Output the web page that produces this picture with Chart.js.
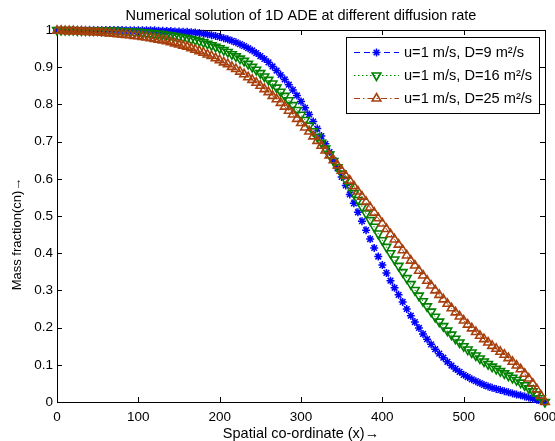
<!DOCTYPE html>
<html><head><meta charset="utf-8">
<script src="https://cdn.jsdelivr.net/npm/chart.js@4.4.1/dist/chart.umd.min.js"></script>
<style>
html,body{margin:0;padding:0;background:#fff}
#wrap{position:relative;width:555px;height:441px}
</style>
</head><body>
<div id="wrap"><canvas id="myChart"></canvas></div>
<script>
// x positions (m)
var xPos = [0,5,10,15,20,25,30,35,40,45,50,55,60,65,70,75,80,85,90,95,
  100,105,110,115,120,125,130,135,140,145,150,155,160,165,170,175,180,185,190,195,
  200,205,210,215,220,225,230,235,240,245,250,255,260,265,270,275,280,285,290,295,
  300,305,310,315,320,325,330,335,340,345,350,355,360,365,370,375,380,385,390,395,
  400,405,410,415,420,425,430,435,440,445,450,455,460,465,470,475,480,485,490,495,
  500,505,510,515,520,525,530,535,540,545,550,555,560,565,570,575,580,585,590,595,600];

// D = 9
var cD9 = [1.000,1.000,1.000,1.000,1.000,1.000,1.000,1.000,1.000,1.000,1.000,1.000,1.000,1.000,1.000,1.000,1.000,0.999,0.999,0.999,
  0.999,0.999,0.999,0.999,0.999,0.998,0.998,0.997,0.997,0.996,0.996,0.995,0.995,0.994,0.993,0.992,0.990,0.988,0.986,0.984,
  0.981,0.978,0.975,0.971,0.967,0.962,0.957,0.951,0.945,0.938,0.930,0.922,0.913,0.902,0.891,0.879,0.867,0.853,0.839,0.824,
  0.808,0.791,0.773,0.754,0.735,0.715,0.694,0.672,0.650,0.628,0.605,0.582,0.558,0.534,0.510,0.486,0.462,0.438,0.414,0.391,
  0.368,0.347,0.326,0.307,0.288,0.269,0.250,0.232,0.215,0.199,0.183,0.169,0.155,0.142,0.130,0.119,0.108,0.098,0.089,0.081,
  0.073,0.067,0.061,0.056,0.051,0.046,0.042,0.038,0.035,0.032,0.029,0.026,0.023,0.020,0.018,0.015,0.012,0.009,0.006,0.003,0.000];

// D = 16
var cD16 = [1.000,1.000,1.000,1.000,1.000,0.999,0.999,0.999,0.999,0.999,0.999,0.998,0.998,0.998,0.998,0.997,0.997,0.996,0.996,0.995,
  0.995,0.994,0.993,0.992,0.991,0.990,0.989,0.987,0.986,0.984,0.982,0.980,0.978,0.975,0.973,0.970,0.967,0.963,0.959,0.955,
  0.951,0.946,0.941,0.935,0.929,0.923,0.917,0.909,0.901,0.893,0.884,0.875,0.866,0.856,0.845,0.834,0.823,0.811,0.798,0.785,
  0.772,0.758,0.743,0.728,0.713,0.697,0.681,0.665,0.648,0.631,0.614,0.597,0.579,0.561,0.543,0.525,0.507,0.489,0.471,0.453,
  0.435,0.417,0.400,0.383,0.366,0.349,0.333,0.317,0.301,0.286,0.271,0.257,0.243,0.229,0.216,0.204,0.192,0.181,0.170,0.160,
  0.150,0.141,0.133,0.125,0.117,0.109,0.102,0.095,0.089,0.083,0.077,0.071,0.065,0.059,0.052,0.045,0.037,0.029,0.020,0.010,0.000];

// D = 25
var cD25 = [0.998,0.998,0.997,0.997,0.997,0.996,0.996,0.995,0.995,0.994,0.994,0.993,0.992,0.991,0.990,0.989,0.988,0.987,0.986,0.984,
  0.983,0.981,0.980,0.978,0.976,0.974,0.972,0.970,0.967,0.964,0.961,0.958,0.955,0.951,0.947,0.943,0.939,0.934,0.930,0.924,
  0.919,0.913,0.908,0.901,0.895,0.888,0.881,0.873,0.866,0.858,0.850,0.841,0.833,0.823,0.814,0.804,0.794,0.783,0.773,0.761,
  0.750,0.738,0.727,0.714,0.702,0.689,0.676,0.663,0.650,0.636,0.622,0.608,0.595,0.580,0.566,0.552,0.538,0.523,0.509,0.494,
  0.480,0.465,0.451,0.437,0.423,0.408,0.394,0.380,0.367,0.353,0.340,0.326,0.313,0.300,0.288,0.276,0.264,0.252,0.241,0.230,
  0.219,0.208,0.198,0.188,0.178,0.169,0.160,0.151,0.143,0.135,0.127,0.118,0.108,0.098,0.088,0.076,0.063,0.049,0.034,0.017,0.000];

var seriesNames = ['u=1 m/s, D=9 m\u00B2/s', 'u=1 m/s, D=16 m\u00B2/s', 'u=1 m/s, D=25 m\u00B2/s'];
var xTicks = [0,100,200,300,400,500,600];
var yTicks = [0,0.1,0.2,0.3,0.4,0.5,0.6,0.7,0.8,0.9,1];
var titleText = 'Numerical solution of 1D ADE at different diffusion rate';
var xTitle = 'Spatial co-ordinate (x)\u2192';
var yTitle = 'Mass fraction(cn)\u2192';

function pts(ys) {
  return xPos.map(function (x, i) { return {x: x, y: ys[i]}; });
}

var FONT = "'Liberation Sans', Arial, sans-serif";

// MATLAB style box with inward ticks
var axesBox = {
  id: 'axesBox',
  beforeDatasetsDraw: function (chart) {
    var ctx = chart.ctx, a = chart.chartArea;
    var sx = chart.scales.x, sy = chart.scales.y;
    ctx.save();
    ctx.strokeStyle = '#000';
    ctx.lineWidth = 1;
    ctx.beginPath();
    ctx.rect(Math.round(a.left) + 0.5, Math.round(a.top) + 0.5,
             Math.round(a.right - a.left), Math.round(a.bottom - a.top));
    xTicks.forEach(function (v) {
      var px = Math.round(sx.getPixelForValue(v)) + 0.5;
      ctx.moveTo(px, a.bottom); ctx.lineTo(px, a.bottom - 5);
      ctx.moveTo(px, a.top); ctx.lineTo(px, a.top + 5);
    });
    yTicks.forEach(function (v) {
      var py = Math.round(sy.getPixelForValue(v)) + 0.5;
      ctx.moveTo(a.left, py); ctx.lineTo(a.left + 5, py);
      ctx.moveTo(a.right, py); ctx.lineTo(a.right - 5, py);
    });
    ctx.stroke();
    ctx.restore();
  },
  afterDraw: function (chart) {
    // y label, sits a bit below the axis middle as in the original
    var ctx = chart.ctx;
    ctx.save();
    ctx.translate(17, 234);
    ctx.rotate(-Math.PI / 2);
    ctx.fillStyle = '#000';
    ctx.font = '13px ' + FONT;
    ctx.textAlign = 'center';
    ctx.textBaseline = 'middle';
    ctx.fillText(yTitle, 0, 0);
    ctx.restore();
  }
};

// legend box like matlab
var boxLegend = {
  id: 'boxLegend',
  afterDatasetsDraw: function (chart) {
    var ctx = chart.ctx;
    var L = 346, T = 37, R = 539, B = 113;
    ctx.save();
    ctx.fillStyle = '#fff';
    ctx.fillRect(L, T, R - L, B - T);
    ctx.strokeStyle = '#000';
    ctx.lineWidth = 1;
    ctx.strokeRect(L + 0.5, T + 0.5, R - L, B - T);
    var rows = [52, 75, 98];
    chart.data.datasets.forEach(function (ds, i) {
      var y = rows[i] + 0.5;
      ctx.strokeStyle = ds.borderColor;
      ctx.lineWidth = ds.borderWidth;
      ctx.setLineDash(ds.borderDash || []);
      ctx.beginPath();
      ctx.moveTo(354, y); ctx.lineTo(399, y);
      ctx.stroke();
      ctx.setLineDash([]);
      ctx.strokeStyle = ds.pointBorderColor;
      ctx.fillStyle = ds.pointBackgroundColor;
      ctx.lineWidth = ds.pointBorderWidth;
      Chart.helpers.drawPoint(ctx, {
        pointStyle: ds.pointStyle, rotation: ds.pointRotation || 0,
        radius: ds.pointRadius, borderWidth: ds.pointBorderWidth
      }, 376.5, y);
      ctx.fillStyle = '#000';
      ctx.font = '14.6px ' + FONT;
      ctx.textBaseline = 'middle';
      ctx.textAlign = 'left';
      ctx.fillText(seriesNames[i], 404, rows[i] + 1);
    });
    ctx.restore();
  }
};

var blue = '#0000ff', green = '#008000', brown = 'rgb(168,64,14)';

new Chart(document.getElementById('myChart'), {
  type: 'line',
  data: {
    datasets: [{
      label: seriesNames[0], data: pts(cD9), order: 3,
      borderColor: blue, borderWidth: 1, borderDash: [6, 4],
      pointStyle: 'star', pointRadius: 4, pointBorderWidth: 1.5,
      pointBorderColor: blue, pointBackgroundColor: blue, clip: false
    }, {
      label: seriesNames[1], data: pts(cD16), order: 2,
      borderColor: green, borderWidth: 1, borderDash: [1.5, 2.5],
      pointStyle: 'triangle', pointRotation: 180, pointRadius: 5, pointBorderWidth: 1.6,
      pointBorderColor: green, pointBackgroundColor: 'rgba(0,0,0,0)', clip: false
    }, {
      label: seriesNames[2], data: pts(cD25), order: 1,
      borderColor: brown, borderWidth: 1, borderDash: [6, 3, 1.5, 3],
      pointStyle: 'triangle', pointRadius: 5, pointBorderWidth: 1.6,
      pointBorderColor: brown, pointBackgroundColor: 'rgba(0,0,0,0)', clip: false
    }]
  },
  options: {
    responsive: true,
    maintainAspectRatio: false,
    animation: false,
    layout: {padding: {left: 0, right: 10, top: 0, bottom: 0}},
    plugins: {
      legend: {display: false},
      tooltip: {enabled: false},
      title: {
        display: true, text: titleText, color: '#000', fullSize: false,
        font: {family: FONT, size: 14.5, weight: 'normal', lineHeight: 1.2},
        padding: {top: 7, bottom: 5.6}
      }
    },
    scales: {
      x: {
        type: 'linear', min: 0, max: 600,
        grid: {display: false, drawTicks: false},
        border: {display: false},
        ticks: {color: '#000', font: {family: FONT, size: 13.5}, padding: 7, maxRotation: 0, autoSkip: false},
        title: {display: true, text: xTitle, color: '#000', font: {family: FONT, size: 14.5, lineHeight: 1}, padding: {top: 0, bottom: 0}},
        afterBuildTicks: function (a) { a.ticks = xTicks.map(function (v) { return {value: v}; }); },
        afterFit: function (a) { a.height = 39; a.paddingLeft = 0; a.paddingRight = 0; }
      },
      y: {
        type: 'linear', min: 0, max: 1,
        grid: {display: false, drawTicks: false},
        border: {display: false},
        ticks: {color: '#000', font: {family: FONT, size: 13.5}, padding: 4, autoSkip: false,
                callback: function (v) { return String(v); }},
        afterBuildTicks: function (a) { a.ticks = yTicks.map(function (v) { return {value: v}; }); },
        afterFit: function (a) { a.width = 57; a.paddingTop = 0; a.paddingBottom = 0; }
      }
    }
  },
  plugins: [axesBox, boxLegend]
});
</script>
</body></html>
